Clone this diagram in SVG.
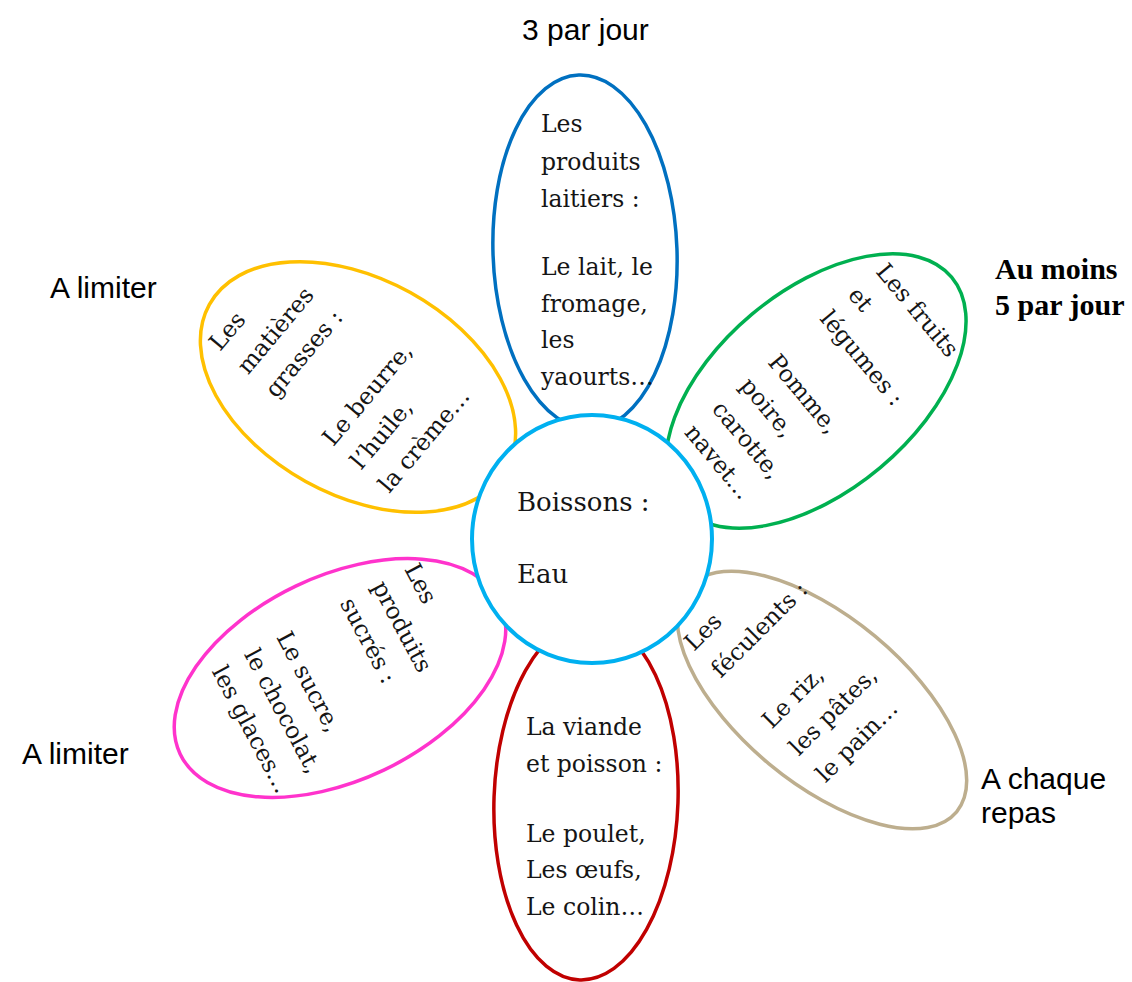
<svg xmlns="http://www.w3.org/2000/svg" width="1132" height="982" viewBox="0 0 1132 982">
<style>
.petal{fill:#fff;stroke-width:3.5}
.t{font-family:"DejaVu Serif","Liberation Serif",serif;font-size:23.5px;fill:#151515}
.c{font-family:"DejaVu Serif","Liberation Serif",serif;font-size:26px;fill:#151515}
.lbl{font-family:"Liberation Sans",Arial,sans-serif;font-size:30px;fill:#000}
.lblb{font-family:"Liberation Serif","Times New Roman",serif;font-weight:bold;font-size:30px;fill:#000}
</style>
<rect width="1132" height="982" fill="#fff"/>
<g id="labels">
<text class="lbl" x="522" y="40">3 par jour</text>
<text class="lbl" x="50" y="298">A limiter</text>
<text class="lbl" x="22" y="764">A limiter</text>
<text class="lblb" x="995" y="279">Au moins</text>
<text class="lblb" x="995" y="315">5 par jour</text>
<text class="lbl" x="981" y="789">A chaque</text>
<text class="lbl" x="981" y="823">repas</text>
</g>
<g id="connectors"></g>
<g id="petal-laitiers">
<ellipse class="petal" cx="585" cy="252" rx="92" ry="177" transform="rotate(-2 585 252)" stroke="#0070C0"/>
<text class="t"><tspan x="541" y="132">Les</tspan><tspan x="541" y="170">produits</tspan><tspan x="541" y="207">laitiers :</tspan><tspan x="541" y="275">Le lait, le</tspan><tspan x="541" y="312">fromage,</tspan><tspan x="541" y="348">les</tspan><tspan x="541" y="385">yaourts…</tspan></text>
</g>
<g id="petal-fruits">
<ellipse class="petal" cx="816" cy="391" rx="177" ry="100" transform="rotate(-40 816 391)" stroke="#00B050"/>
<text class="t" transform="translate(875 272) rotate(50)"><tspan x="0" y="0">Les fruits</tspan><tspan x="0" y="36.5">et</tspan><tspan x="0" y="73">légumes :</tspan><tspan x="0" y="141">Pomme,</tspan><tspan x="0" y="177.5">poire,</tspan><tspan x="0" y="214">carotte,</tspan><tspan x="0" y="250">navet…</tspan></text>
</g>
<g id="petal-matieres">
<ellipse class="petal" cx="358" cy="387" rx="170" ry="108" transform="rotate(29 358 387)" stroke="#FFC000"/>
<text class="t" transform="translate(220 352) rotate(-50)"><tspan x="0" y="0">Les</tspan><tspan x="0" y="36.5">matières</tspan><tspan x="0" y="73">grasses :</tspan><tspan x="0" y="148">Le beurre,</tspan><tspan x="0" y="184.5">l’huile,</tspan><tspan x="0" y="221">la crème…</tspan></text>
</g>
<g id="petal-sucres">
<ellipse class="petal" cx="340" cy="678" rx="177" ry="102" transform="rotate(-25.4 340 678)" stroke="#FF33CC"/>
<text class="t" transform="translate(404 569) rotate(62)"><tspan x="0" y="0">Les</tspan><tspan x="0" y="36.5">produits</tspan><tspan x="0" y="73">sucrés :</tspan><tspan x="0" y="145">Le sucre,</tspan><tspan x="0" y="181.5">le chocolat,</tspan><tspan x="0" y="218">les glaces…</tspan></text>
</g>
<g id="petal-feculents">
<ellipse class="petal" cx="822" cy="700" rx="175" ry="83" transform="rotate(39.7 822 700)" stroke="#BDAE8E"/>
<text class="t" transform="translate(694 652) rotate(-45)"><tspan x="0" y="0">Les</tspan><tspan x="0" y="38">féculents :</tspan><tspan x="0" y="110">Le riz,</tspan><tspan x="0" y="148">les pâtes,</tspan><tspan x="0" y="186">le pain…</tspan></text>
</g>
<g id="petal-viande">
<ellipse class="petal" cx="586" cy="800" rx="92" ry="180" transform="rotate(2 586 800)" stroke="#C00000"/>
<text class="t"><tspan x="526" y="735">La viande</tspan><tspan x="526" y="772">et poisson :</tspan><tspan x="526" y="842">Le poulet,</tspan><tspan x="526" y="878">Les œufs,</tspan><tspan x="526" y="915">Le colin…</tspan></text>
</g>
<g id="center-boissons">
<ellipse cx="592" cy="539" rx="120" ry="124" fill="#fff" stroke="#00B0F0" stroke-width="4"/>
<text class="c"><tspan x="517" y="511">Boissons :</tspan><tspan x="517" y="583">Eau</tspan></text>
</g>
</svg>
